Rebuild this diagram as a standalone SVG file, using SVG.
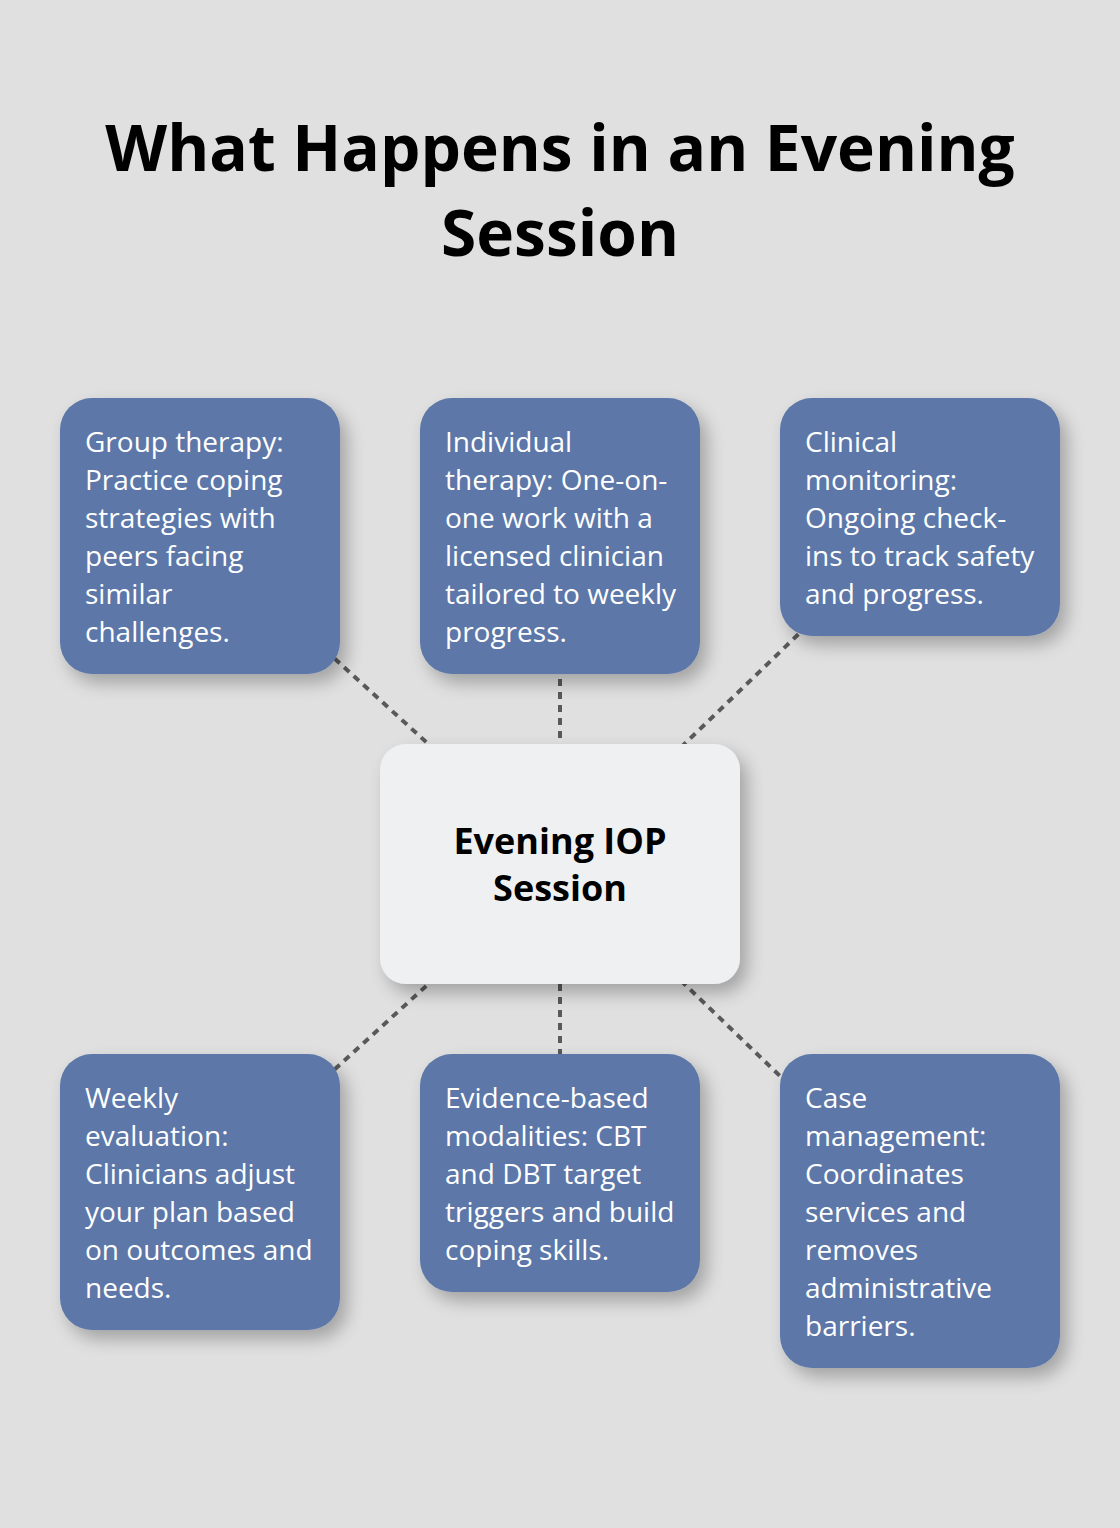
<svg xmlns="http://www.w3.org/2000/svg" width="1120" height="1528" viewBox="0 0 1120 1528">
<defs>
<filter id="sh" x="-20%" y="-20%" width="150%" height="150%">
<feGaussianBlur in="SourceAlpha" stdDeviation="9"/>
<feOffset dx="7" dy="9" result="b"/>
<feComponentTransfer><feFuncA type="linear" slope="0.28"/></feComponentTransfer>
<feMerge><feMergeNode/><feMergeNode in="SourceGraphic"/></feMerge>
</filter>
<style>
.t{font-family:"Open Sans","Liberation Sans",sans-serif;font-weight:700;font-size:64px;fill:#000;text-anchor:middle}
.box{fill:#5c77a8;filter:url(#sh)}
.ctr{fill:#eff0f2;filter:url(#sh)}
.lbl{font-family:"Open Sans","Liberation Sans",sans-serif;font-size:28px;fill:#fff}
.cl{font-family:"Open Sans","Liberation Sans",sans-serif;font-weight:700;font-size:36px;fill:#000;text-anchor:middle}
.con{stroke:#595959;stroke-width:4;stroke-dasharray:7 6;fill:none}
</style>
</defs>
<rect width="1120" height="1528" fill="#dfe0df"/>
<text class="t" x="560" y="171">What Happens in an Evening</text>
<text class="t" x="560" y="256">Session</text>
<g id="connectors">
<line class="con" x1="200" y1="536" x2="560" y2="864"/>
<line class="con" x1="560" y1="536" x2="560" y2="864"/>
<line class="con" x1="920" y1="517" x2="560" y2="864"/>
<line class="con" x1="200" y1="1192" x2="560" y2="864"/>
<line class="con" x1="560" y1="1173" x2="560" y2="864"/>
<line class="con" x1="920" y1="1211" x2="560" y2="864"/>
</g>
<g id="center">
<rect class="ctr" x="380" y="744" width="360" height="240" rx="26"/>
<text class="cl" x="560" y="854">Evening IOP</text>
<text class="cl" x="560" y="901">Session</text>
</g>
<g id="group-therapy">
<rect class="box" x="60" y="398" width="280" height="276" rx="32"/>
<text class="lbl" x="85" y="452">Group therapy:<tspan x="85" dy="38">Practice coping</tspan><tspan x="85" dy="38">strategies with</tspan><tspan x="85" dy="38">peers facing</tspan><tspan x="85" dy="38">similar</tspan><tspan x="85" dy="38">challenges.</tspan></text>
</g>
<g id="individual-therapy">
<rect class="box" x="420" y="398" width="280" height="276" rx="32"/>
<text class="lbl" x="445" y="452">Individual<tspan x="445" dy="38">therapy: One-on-</tspan><tspan x="445" dy="38">one work with a</tspan><tspan x="445" dy="38">licensed clinician</tspan><tspan x="445" dy="38">tailored to weekly</tspan><tspan x="445" dy="38">progress.</tspan></text>
</g>
<g id="clinical-monitoring">
<rect class="box" x="780" y="398" width="280" height="238" rx="32"/>
<text class="lbl" x="805" y="452">Clinical<tspan x="805" dy="38">monitoring:</tspan><tspan x="805" dy="38">Ongoing check-</tspan><tspan x="805" dy="38">ins to track safety</tspan><tspan x="805" dy="38">and progress.</tspan></text>
</g>
<g id="weekly-evaluation">
<rect class="box" x="60" y="1054" width="280" height="276" rx="32"/>
<text class="lbl" x="85" y="1108">Weekly<tspan x="85" dy="38">evaluation:</tspan><tspan x="85" dy="38">Clinicians adjust</tspan><tspan x="85" dy="38">your plan based</tspan><tspan x="85" dy="38">on outcomes and</tspan><tspan x="85" dy="38">needs.</tspan></text>
</g>
<g id="evidence-based">
<rect class="box" x="420" y="1054" width="280" height="238" rx="32"/>
<text class="lbl" x="445" y="1108">Evidence-based<tspan x="445" dy="38">modalities: CBT</tspan><tspan x="445" dy="38">and DBT target</tspan><tspan x="445" dy="38">triggers and build</tspan><tspan x="445" dy="38">coping skills.</tspan></text>
</g>
<g id="case-management">
<rect class="box" x="780" y="1054" width="280" height="314" rx="32"/>
<text class="lbl" x="805" y="1108">Case<tspan x="805" dy="38">management:</tspan><tspan x="805" dy="38">Coordinates</tspan><tspan x="805" dy="38">services and</tspan><tspan x="805" dy="38">removes</tspan><tspan x="805" dy="38">administrative</tspan><tspan x="805" dy="38">barriers.</tspan></text>
</g>
</svg>
